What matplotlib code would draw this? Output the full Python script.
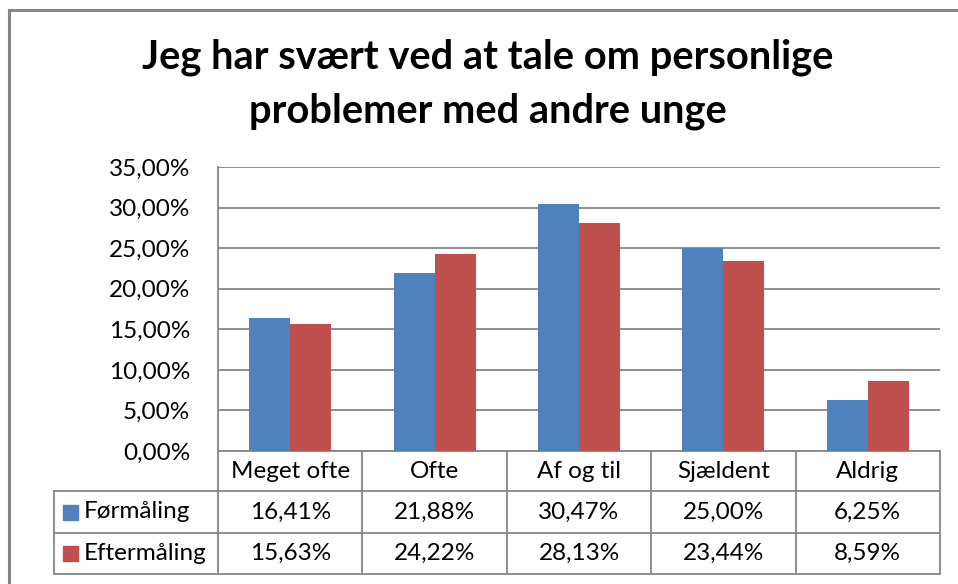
import numpy as np
import matplotlib
matplotlib.use("Agg")
import matplotlib.pyplot as plt
from matplotlib.transforms import blended_transform_factory
from matplotlib.patches import Rectangle

# ---- data ----
categories = ["Meget ofte", "Ofte", "Af og til", "Sjældent", "Aldrig"]
series_names = ["Førmåling", "Eftermåling"]
foer = [16.41, 21.88, 30.47, 25.00, 6.25]
efter = [15.63, 24.22, 28.13, 23.44, 8.59]
yticks = [0, 5, 10, 15, 20, 25, 30, 35]
title = "Jeg har svært ved at tale om personlige\nproblemer med andre unge"

colors = ["#4F81BD", "#C0504D"]
grid_col = "#868686"
plt.rcParams['font.family'] = ['Lato', 'DejaVu Sans']
fs = 17.5

W, H = 958, 584
fig = plt.figure(figsize=(W / 100, H / 100), dpi=100)

def px_axes(l, t, r, b):
    return fig.add_axes([l / W, 1 - b / H, (r - l) / W, (b - t) / H])

# outer chart border (only left and top visible)
fig.add_artist(plt.Line2D([9 / W, 9 / W], [0, 1 - 10 / H], color=grid_col, lw=2.2,
                          transform=fig.transFigure))
fig.add_artist(plt.Line2D([9 / W, 1], [1 - 10 / H, 1 - 10 / H], color=grid_col, lw=2.2,
                          transform=fig.transFigure))

ax = px_axes(218, 167, 940, 451)
x = np.arange(len(categories))
bw = 0.284
ax.bar(x - bw / 2, foer, bw, color=colors[0], zorder=3)
ax.bar(x + bw / 2, efter, bw, color=colors[1], zorder=3)
ax.set_xlim(-0.5, len(categories) - 0.5)
ax.set_ylim(0, 35)
ax.set_yticks(yticks)
ax.set_yticklabels([f"{v:.2f}%".replace(".", ",") for v in yticks], fontsize=fs)
ax.tick_params(axis='y', length=0, pad=20)
ax.set_xticks([])
ax.yaxis.grid(True, color=grid_col, lw=1.3, zorder=0)
for s in ["top", "right", "bottom"]:
    ax.spines[s].set_visible(False)
ax.spines["left"].set_color(grid_col)
ax.spines["left"].set_linewidth(1.3)

fig.text(488 / W, 1 - 84 / H, title, ha="center", va="center", fontsize=28.7,
         fontweight="bold", linespacing=1.55)

# ---- data table below the axes ----
tr = blended_transform_factory(ax.transData, ax.transAxes)
ph = 284.0
row_y = [0, -40 / ph, -82 / ph, -123 / ph]
left_x = -0.5 - (218 - 54) / 144.4
lkw = dict(color=grid_col, lw=1.3, transform=tr, clip_on=False)

# horizontal lines
ax.plot([-0.5, 4.5], [row_y[0]] * 2, **lkw)
for yy in row_y[1:]:
    ax.plot([left_x, 4.5], [yy] * 2, **lkw)
# vertical lines
for b in np.arange(-0.5, 4.6, 1.0):
    ax.plot([b, b], [row_y[0], row_y[3]], **lkw)
ax.plot([left_x, left_x], [row_y[1], row_y[3]], **lkw)

for i, c in enumerate(categories):
    ax.text(i, (row_y[0] + row_y[1]) / 2, c, ha="center", va="center",
            fontsize=fs, transform=tr)
for r, vals in enumerate([foer, efter]):
    yc = (row_y[r + 1] + row_y[r + 2]) / 2
    for i, v in enumerate(vals):
        ax.text(i, yc, f"{v:.2f}%".replace(".", ","), ha="center", va="center",
                fontsize=fs, transform=tr)
    # small coloured legend square, about 15 px
    sq = Rectangle((left_x + 9 / 144.4, yc - 7.5 / ph), 15 / 144.4, 15 / ph,
                   transform=tr, color=colors[r], clip_on=False)
    ax.add_patch(sq)
    ax.text(left_x + 30 / 144.4, yc, series_names[r], ha="left", va="center",
            fontsize=fs, transform=tr)

fig.savefig("out.png", dpi=100)
